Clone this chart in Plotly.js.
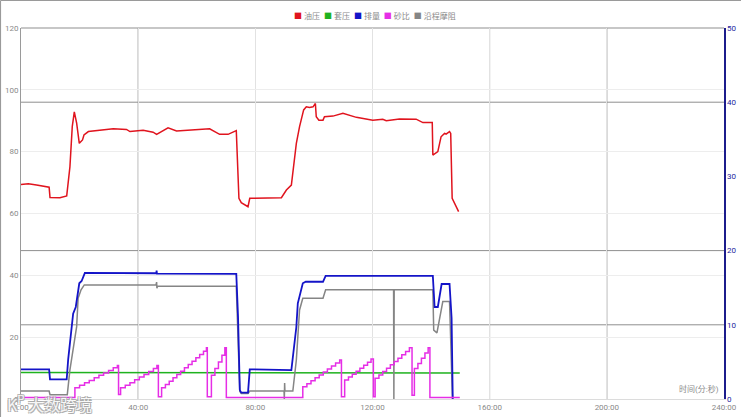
<!DOCTYPE html>
<html>
<head>
<meta charset="utf-8">
<script src="https://cdn.plot.ly/plotly-3.0.1.min.js"></script>
<style>html,body{margin:0;padding:0;background:#fff;}#chart{width:741px;height:417px;}</style>
</head>
<body>
<div id="chart"></div>
<script>
// ---- data (time in minutes) ----
const seriesNames = ["油压", "套压", "排量", "砂比", "沿程摩阻"];
const seriesColors = ["#e0141e", "#1fb21f", "#1414c8", "#e62ee6", "#858585"];

const xTickVals = [0, 40, 80, 120, 160, 200, 240];
const xTickText = ["0:00", "40:00", "80:00", "120:00", "160:00", "200:00", "240:00"];

// 油压 (left axis)
const oilT = [0, 2.5, 5.3, 9.6, 9.9, 13.3, 15.6, 16.7, 17.5, 18.2, 19.0, 19.9, 21.0, 21.5, 23.0, 26.9, 31.5, 36.0, 37.2, 41.7, 45.1, 46.3, 48.5, 50.2, 53.1, 58.7, 64.4, 67.8, 70.7, 73.5, 74.0, 74.4, 75.2, 77.5, 78.1, 84.9, 88.9, 90.6, 92.3, 94.0, 95.1, 96.5, 97.4, 98.5, 99.7, 100.5, 100.8, 101.7, 103.1, 103.6, 106.5, 109.9, 112.2, 114.5, 120.1, 123.5, 124.7, 129.2, 134.9, 137.2, 140.4, 140.6, 142.3, 143.4, 144.6, 145.1, 146.3, 146.7, 147.2, 148.0, 149.4];
const oilV = [69.4, 69.6, 69.2, 68.5, 65.2, 65.1, 65.7, 75.1, 88.1, 92.9, 89.2, 82.7, 83.8, 85.4, 86.5, 87.0, 87.4, 87.2, 86.5, 86.9, 86.3, 85.6, 86.8, 87.7, 86.7, 87.0, 87.4, 85.6, 85.6, 86.8, 73.0, 64.9, 63.5, 62.2, 64.9, 65.1, 65.1, 67.6, 69.2, 82.7, 88.1, 93.5, 94.5, 94.3, 94.5, 95.6, 91.3, 90.2, 90.2, 91.3, 91.5, 92.4, 91.8, 91.1, 90.2, 90.5, 90.0, 90.6, 90.5, 89.4, 89.4, 78.9, 80.0, 84.8, 85.9, 85.7, 86.5, 85.9, 64.9, 63.3, 60.6];

// 套压 (left axis)
const casingT = [0, 30, 60, 90, 120, 149.8];
const casingV = [8.6, 8.6, 8.5, 8.5, 8.4, 8.4];

// 排量 (right axis)
const rateT = [0, 9.6, 9.9, 15.6, 16.1, 17.3, 17.8, 18.7, 19.9, 20.7, 21.5, 21.8, 46.2, 46.3, 46.4, 73.5, 74.1, 74.7, 75.2, 77.5, 78.1, 92.3, 92.8, 94.0, 94.5, 95.4, 96.2, 97.2, 103.1, 104.0, 140.6, 141.2, 142.3, 143.6, 146.3, 147.0, 147.4];
const rateV = [4.0, 4.0, 2.65, 2.65, 5.3, 9.7, 11.5, 12.4, 15.6, 15.9, 16.9, 17.0, 16.95, 17.3, 16.9, 16.85, 11.0, 1.2, 0.85, 0.85, 4.0, 3.9, 5.7, 9.7, 12.9, 14.5, 15.6, 15.8, 15.8, 16.6, 16.6, 12.4, 12.4, 15.5, 15.5, 10.9, 0];

// 砂比 (right axis, stepped)
const sandT = [0, 18.4, 20.0, 21.7, 23.3, 25.0, 26.6, 28.2, 29.9, 31.5, 32.9, 33.3, 34.0, 35.6, 37.2, 38.8, 40.4, 42.0, 43.6, 45.2, 46.4, 46.9, 48.0, 49.3, 50.6, 51.9, 53.2, 54.5, 55.8, 57.1, 58.4, 59.7, 61.0, 62.3, 63.3, 63.6, 65.0, 66.2, 67.4, 68.6, 69.6, 70.1, 96.2, 97.6, 99.0, 100.4, 101.8, 103.2, 104.6, 106.0, 107.4, 108.8, 109.4, 110.5, 111.8, 113.1, 114.4, 115.7, 117.0, 118.3, 119.5, 120.3, 120.9, 122.2, 123.5, 124.8, 126.1, 127.4, 128.7, 130.0, 131.3, 132.6, 133.5, 134.3, 135.5, 136.7, 137.9, 139.0, 139.6, 149.8];
const sandV = [0.2, 1.5, 1.85, 2.2, 2.5, 2.85, 3.2, 3.5, 3.85, 4.2, 4.5, 0.6, 1.5, 1.85, 2.2, 2.6, 2.95, 3.3, 3.7, 4.1, 4.5, 0.3, 1.5, 1.95, 2.4, 2.85, 3.3, 3.75, 4.2, 4.65, 5.1, 5.55, 6.0, 6.45, 6.9, 0.3, 3.2, 4.1, 5.0, 5.9, 6.9, 0.2, 1.66, 2.05, 2.45, 2.85, 3.25, 3.65, 4.05, 4.45, 4.85, 5.26, 0.3, 2.56, 2.95, 3.35, 3.75, 4.15, 4.55, 4.95, 5.4, 0.3, 2.8, 3.25, 3.7, 4.15, 4.6, 5.05, 5.5, 5.95, 6.4, 6.9, 0.5, 4.1, 4.8, 5.5, 6.2, 6.9, 0.2, 0.2];

// 沿程摩阻 (left axis)
const fricT = [0, 9.6, 9.9, 15.8, 16.7, 17.8, 19.0, 19.5, 20.5, 21.6, 46.1, 46.3, 46.4, 46.6, 73.5, 74.7, 75.2, 77.5, 78.1, 89.8, 89.9, 90.0, 90.1, 92.8, 94.0, 95.1, 96.2, 103.1, 104.0, 127.2, 127.3, 127.4, 140.6, 140.9, 142.0, 142.8, 144.0, 146.3, 147.3];
const fricV = [2.6, 2.6, 1.4, 1.4, 9.4, 16.9, 23.4, 32.6, 35.3, 36.9, 36.9, 37.8, 35.8, 36.5, 36.5, 2.4, 1.8, 1.8, 2.6, 2.6, 0, 5.2, 2.6, 2.6, 12.6, 28.8, 32.6, 32.6, 35.3, 35.3, 0, 35.3, 35.3, 22.3, 21.4, 25.0, 31.5, 31.5, 0];

const xTitle = "时间(分:秒)";
const watermark = "K<sup>P</sup> 大数跨境";

// ---- traces ----
const FONT = "Roboto, 'Noto Sans CJK SC', sans-serif";
const traces = [
  {x: oilT, y: oilV, yaxis: "y", name: seriesNames[0], line: {color: seriesColors[0], width: 1.5}},
  {x: casingT, y: casingV, yaxis: "y", name: seriesNames[1], line: {color: seriesColors[1], width: 1.5}},
  {x: rateT, y: rateV, yaxis: "y2", name: seriesNames[2], line: {color: seriesColors[2], width: 1.8}},
  {x: sandT, y: sandV, yaxis: "y2", name: seriesNames[3], line: {color: seriesColors[3], width: 1.5, shape: "hv"}},
  {x: fricT, y: fricV, yaxis: "y", name: seriesNames[4], line: {color: seriesColors[4], width: 1.5}}
].map(t => Object.assign({type: "scatter", mode: "lines", hoverinfo: "skip"}, t));

// custom legend text built from names/colours
const legendText = seriesNames.map((n, i) =>
  '<span style="color:' + seriesColors[i] + '">■</span> ' + n).join('  ');

const darkGrid = "#8f8f8f";
const shapes = [];
[10, 20, 40].forEach(v => shapes.push({type: "line", xref: "paper", yref: "y2", x0: 0, x1: 1, y0: v, y1: v, line: {color: darkGrid, width: 1}, layer: "below"}));
shapes.push({type: "line", xref: "paper", yref: "paper", x0: 0, x1: 1, y0: 1, y1: 1, line: {color: darkGrid, width: 1}, layer: "below"});
[[40, darkGrid], [200, darkGrid], [160, "#b5b5b5"]].forEach(p => shapes.push({type: "line", xref: "x", yref: "paper", x0: p[0], x1: p[0], y0: 0, y1: 1, line: {color: p[1], width: 1}, layer: "below"}));
// page border (top and left)
shapes.push({type: "line", xref: "paper", yref: "paper", x0: -0.0292, x1: 1.05, y0: 1.0741, y1: 1.0741, line: {color: "#9a9a9a", width: 1.2}});
shapes.push({type: "line", xref: "paper", yref: "paper", x0: -0.0292, x1: -0.0292, y0: -0.06, y1: 1.0741, line: {color: "#9a9a9a", width: 1.2}});

const layout = {
  width: 741, height: 417,
  margin: {l: 21, r: 17, t: 28, b: 18, pad: 0},
  paper_bgcolor: "#ffffff", plot_bgcolor: "#ffffff",
  font: {family: FONT, size: 8, color: "#8a8a8a"},
  showlegend: false,
  xaxis: {range: [0, 240], tickvals: xTickVals, ticktext: xTickText, showgrid: true, gridcolor: "#e2e2e2", gridwidth: 1,
          showline: true, linecolor: "#dcdcdc", linewidth: 1, ticks: "", zeroline: false, fixedrange: true,
          tickfont: {family: FONT, size: 8, color: "#8a8a8a"}},
  yaxis: {range: [0, 120], dtick: 20, showgrid: true, gridcolor: "#ededed", gridwidth: 1,
          showline: true, linecolor: "#9a9a9a", linewidth: 1, ticks: "", zeroline: false, fixedrange: true,
          tickfont: {family: FONT, size: 8, color: "#8a8a8a"}},
  yaxis2: {range: [0, 50], dtick: 10, overlaying: "y", side: "right", showgrid: false,
           showline: true, linecolor: "#1c1c8c", linewidth: 1.5, ticks: "", zeroline: false, fixedrange: true,
           tickfont: {family: FONT, size: 8, color: "#2525a0"}},
  shapes: shapes,
  annotations: [
    {xref: "paper", yref: "paper", x: 0.5036, y: 1.0323, xanchor: "center", yanchor: "middle", showarrow: false,
     text: legendText, font: {family: FONT, size: 8, color: "#8a8a8a"}},
    {xref: "paper", yref: "paper", x: 1, y: 0, xanchor: "right", yanchor: "bottom", xshift: -3, yshift: 3, showarrow: false,
     text: xTitle, font: {family: FONT, size: 8, color: "#8a8a8a"}},
    {xref: "paper", yref: "paper", x: -0.0228, y: -0.0108, xanchor: "left", yanchor: "middle", showarrow: false,
     text: watermark, font: {family: "'Noto Sans CJK SC', sans-serif", size: 16, color: "rgba(255,255,255,0.9)",
     shadow: "-1px -1px 0 #aaa, 1px -1px 0 #aaa, -1px 1px 0 #aaa, 1px 1px 0 #aaa"}}
  ]
};

Plotly.newPlot("chart", traces, layout, {displayModeBar: false, staticPlot: true});
</script>
</body>
</html>
